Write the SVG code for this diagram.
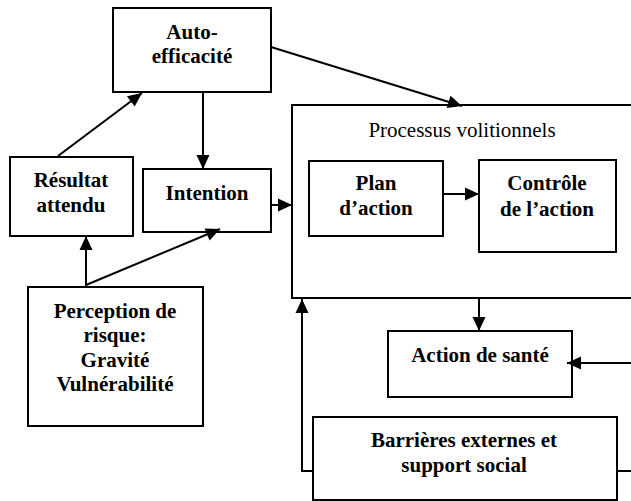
<svg xmlns="http://www.w3.org/2000/svg" width="631" height="501" viewBox="0 0 631 501">
<style>
.box{fill:#fff;stroke:#000;stroke-width:2}
text{font-family:'Liberation Serif','Times New Roman','DejaVu Serif',serif;font-size:21px;text-anchor:middle;fill:#000}
.t{font-weight:bold}
.c{fill:none;stroke:#000;stroke-width:2}
</style>
<defs>
<marker id="ah" markerUnits="userSpaceOnUse" markerWidth="15" markerHeight="14" refX="14" refY="6.5" orient="auto" overflow="visible">
<path d="M0,0 L14,6.5 L0,13 z" fill="#000"/>
</marker>
</defs>
<rect width="631" height="501" fill="#fff"/>
<g id="processus">
<rect class="box" x="292" y="105" width="350" height="193"/>
<text x="462" y="137" font-family="Liberation Serif, serif">Processus volitionnels</text>
</g>
<g id="auto-efficacite">
<rect class="box" x="113" y="8" width="158" height="84"/>
<text class="t" x="192" y="39" font-family="Liberation Serif, serif">Auto-</text>
<text class="t" x="192" y="63" font-family="Liberation Serif, serif">efficacité</text>
</g>
<g id="resultat">
<rect class="box" x="10" y="157" width="123" height="79"/>
<text class="t" x="71" y="187" font-family="Liberation Serif, serif">Résultat</text>
<text class="t" x="71" y="212" font-family="Liberation Serif, serif">attendu</text>
</g>
<g id="intention">
<rect class="box" x="143" y="169" width="128" height="63"/>
<text class="t" x="207" y="200" font-family="Liberation Serif, serif">Intention</text>
</g>
<g id="plan">
<rect class="box" x="309" y="161" width="134" height="75"/>
<text class="t" x="376" y="190" font-family="Liberation Serif, serif">Plan</text>
<text class="t" x="376" y="215" font-family="Liberation Serif, serif">d’action</text>
</g>
<g id="controle">
<rect class="box" x="479" y="160" width="137" height="92"/>
<text class="t" x="547" y="190" font-family="Liberation Serif, serif">Contrôle</text>
<text class="t" x="547" y="216" font-family="Liberation Serif, serif">de l’action</text>
</g>
<g id="perception">
<rect class="box" x="28" y="287" width="175" height="139"/>
<text class="t" x="115" y="318" font-family="Liberation Serif, serif">Perception de</text>
<text class="t" x="115" y="342" font-family="Liberation Serif, serif">risque:</text>
<text class="t" x="115" y="367" font-family="Liberation Serif, serif">Gravité</text>
<text class="t" x="115" y="391" font-family="Liberation Serif, serif">Vulnérabilité</text>
</g>
<g id="action">
<rect class="box" x="388" y="331" width="184" height="66"/>
<text class="t" x="480" y="362" font-family="Liberation Serif, serif">Action de santé</text>
</g>
<g id="barrieres">
<rect class="box" x="313" y="417" width="304" height="83"/>
<text class="t" x="464" y="447" font-family="Liberation Serif, serif">Barrières externes et</text>
<text class="t" x="464" y="472" font-family="Liberation Serif, serif">support social</text>
</g>
<g id="connectors">
<line class="c" x1="203" y1="92" x2="203" y2="169" marker-end="url(#ah)"/>
<line class="c" x1="58" y1="156" x2="142" y2="93" marker-end="url(#ah)"/>
<line class="c" x1="86" y1="287" x2="86" y2="236" marker-end="url(#ah)"/>
<line class="c" x1="86" y1="285" x2="220" y2="229" marker-end="url(#ah)"/>
<line class="c" x1="271" y1="205" x2="292" y2="205" marker-end="url(#ah)"/>
<line class="c" x1="271" y1="47" x2="462" y2="106" marker-end="url(#ah)"/>
<line class="c" x1="443" y1="194" x2="479" y2="194" marker-end="url(#ah)"/>
<line class="c" x1="479" y1="298" x2="479" y2="331" marker-end="url(#ah)"/>
<line class="c" x1="631" y1="363" x2="567" y2="363" marker-end="url(#ah)"/>
<polyline class="c" points="313,471 302,471 302,299" marker-end="url(#ah)"/>
<line class="c" x1="617" y1="471" x2="631" y2="471"/>
</g>
</svg>
